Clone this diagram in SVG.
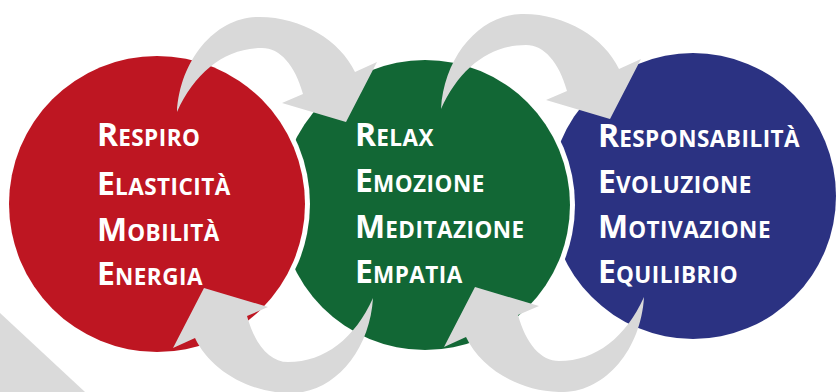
<svg xmlns="http://www.w3.org/2000/svg" width="836" height="392" viewBox="0 0 836 392">
<defs>
<style>
.halo{fill:#ffffff}
.arrow{fill:#d9d9d9}
.lbl{font-family:"Open Sans","Liberation Sans",sans-serif;font-weight:700;fill:#ffffff}
.big{font-size:32px}
.sm{font-size:22.5px;letter-spacing:0.5px}
</style>
<path id="carrow" d="M177,112 C180,60 215,18 257,17 C300,16 340,40 355,72 L377,62 L346,122 L282,103 L303,94 C295,65 280,48 262,48 C225,48 195,72 177,112 Z"/>
</defs>
<rect width="836" height="392" fill="#ffffff"/>
<polygon points="0,313 85,392 0,392" fill="#dadada"/>
<g id="node-blue">
<circle cx="693" cy="196" r="143" fill="#2b3282"/>
<text class="lbl" x="598" y="147"><tspan class="big">R</tspan><tspan class="sm">ESPONSABILITÀ</tspan></text>
<text class="lbl" x="598" y="193"><tspan class="big">E</tspan><tspan class="sm">VOLUZIONE</tspan></text>
<text class="lbl" x="598" y="238"><tspan class="big">M</tspan><tspan class="sm">OTIVAZIONE</tspan></text>
<text class="lbl" x="598" y="283"><tspan class="big">E</tspan><tspan class="sm">QUILIBRIO</tspan></text>
</g>
<g id="node-green">
<circle class="halo" cx="425" cy="205" r="150"/>
<circle cx="425" cy="205" r="145" fill="#126735"/>
<text class="lbl" x="355" y="146"><tspan class="big">R</tspan><tspan class="sm">ELAX</tspan></text>
<text class="lbl" x="355" y="192"><tspan class="big">E</tspan><tspan class="sm">MOZIONE</tspan></text>
<text class="lbl" x="355" y="238"><tspan class="big">M</tspan><tspan class="sm">EDITAZIONE</tspan></text>
<text class="lbl" x="355" y="283"><tspan class="big">E</tspan><tspan class="sm">MPATIA</tspan></text>
</g>
<g id="node-red">
<circle class="halo" cx="157" cy="204" r="153"/>
<circle cx="157" cy="204" r="148" fill="#be1622"/>
<text class="lbl" x="97" y="146"><tspan class="big">R</tspan><tspan class="sm">ESPIRO</tspan></text>
<text class="lbl" x="97" y="195"><tspan class="big">E</tspan><tspan class="sm">LASTICITÀ</tspan></text>
<text class="lbl" x="97" y="241"><tspan class="big">M</tspan><tspan class="sm">OBILITÀ</tspan></text>
<text class="lbl" x="97" y="285"><tspan class="big">E</tspan><tspan class="sm">NERGIA</tspan></text>
</g>
<g id="connectors">
<use href="#carrow" class="arrow"/>
<use href="#carrow" class="arrow" transform="translate(264,-3)"/>
<use href="#carrow" class="arrow" transform="rotate(180 275 205)"/>
<use href="#carrow" class="arrow" transform="rotate(180 410.5 204.5)"/>
</g>
</svg>
